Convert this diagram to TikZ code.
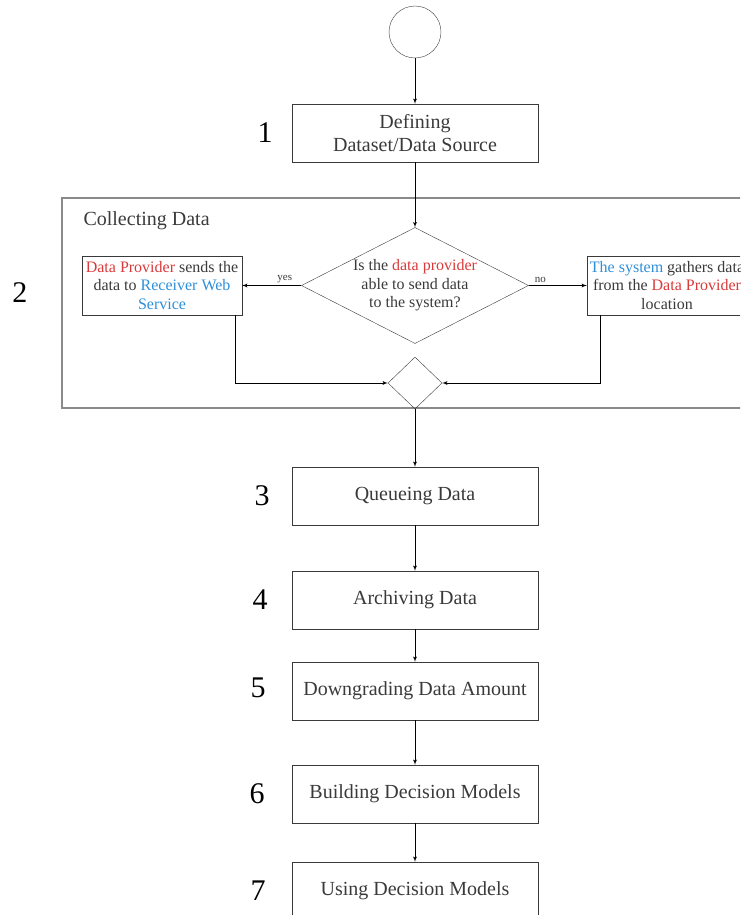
\documentclass[tikz,border=0pt]{standalone}
\usepackage{fontspec}
\setmainfont{Liberation Serif}
\usepackage{xcolor}
\usetikzlibrary{shapes,arrows,positioning}

\definecolor{provred}{HTML}{D93A3A}
\definecolor{sysblue}{HTML}{2E8FD8}
\definecolor{txtgray}{HTML}{3A3A3A}
\definecolor{boxgray}{HTML}{8A8A8A}

\newcommand{\prov}[1]{\textcolor{provred}{#1}}
\newcommand{\sysb}[1]{\textcolor{sysblue}{#1}}

\begin{document}
\begin{tikzpicture}[x=1pt, y=-1pt, auto,
  block/.style={rectangle, draw=txtgray, text=txtgray, minimum width=246pt, minimum height=58pt, inner sep=0pt, align=center, font=\fontsize{20}{23}\selectfont},
  side/.style={rectangle, draw=txtgray, text=txtgray, minimum width=160pt, minimum height=59pt, inner sep=0pt, align=center, font=\fontsize{16}{18.5}\selectfont},
  decision/.style={diamond, draw=txtgray, text=txtgray, aspect=2, minimum width=226pt, minimum height=116pt, inner sep=0pt, align=center, font=\fontsize{16}{18.5}\selectfont},
  merge/.style={diamond, draw=txtgray, minimum width=54pt, minimum height=52pt, inner sep=0pt},
  group/.style={rectangle, draw=boxgray, line width=1.1pt, minimum width=698pt, minimum height=210pt},
  num/.style={font=\fontsize{30}{30}\selectfont},
  tag/.style={text=txtgray, inner sep=2pt, font=\fontsize{11}{11}\selectfont},
  line/.style={draw, -latex', line width=0.8pt}]

  \useasboundingbox (0,0) rectangle (740,915);
  \clip (0,0) rectangle (740,915);

  % data collection frame
  \node [group] (collect) at (411,303) {};
  \node [anchor=west, text=txtgray, font=\fontsize{20}{23}\selectfont] (collecttitle) at (80,221) {Collecting Data};

  \node [circle, draw=txtgray, minimum size=52pt, inner sep=0pt] (start) at (415,32) {};
  \node [block, below of=start, node distance=101pt] (define) {Defining\\Dataset/Data Source};

  \node [decision, below of=define, node distance=152.5pt] (ask) {Is the \prov{data provider}\\able to send data\\to the system?};
  \node [side, left of=ask, node distance=253pt] (push) {\prov{Data Provider} sends the\\data to \sysb{Receiver Web}\\\sysb{Service}};
  \node [side, right of=ask, node distance=252pt] (pull) {\sysb{The system} gathers data\\from the \prov{Data Provider}\\location};
  \node [merge, below of=ask, node distance=97.5pt] (join) {};

  \node [block, below of=join, node distance=113pt] (queue) {Queueing Data};
  \node [block, below of=queue, node distance=104pt] (archive) {Archiving Data};
  \node [block, below of=archive, node distance=91pt] (downgrade) {Downgrading Data Amount};
  \node [block, below of=downgrade, node distance=103pt] (build) {Building Decision Models};
  \node [block, below of=build, node distance=97pt] (use) {Using Decision Models};

  % step numbers
  \node [num, left of=define, node distance=150pt] (n1) {1};
  \node [num] (n2) at (20,293) {2};
  \node [num, left of=queue, node distance=153pt] (n3) {3};
  \node [num, left of=archive, node distance=155pt] (n4) {4};
  \node [num, left of=downgrade, node distance=157pt, yshift=3pt] (n5) {5};
  \node [num, left of=build, node distance=158pt] (n6) {6};
  \node [num, left of=use, node distance=157pt] (n7) {7};

  \draw [line] (start) -- (define);
  \draw [line] (define) -- (ask);
  \draw [line] (ask) -- node [tag, swap, pos=0.28] {yes} (push);
  \draw [line] (ask) -- node [tag, pos=0.2] {no} (pull);
  \draw [line] ([xshift=73pt]push.south) |- (join);
  \draw [line] ([xshift=-67pt]pull.south) |- (join);
  \draw [line] (join) -- (queue);
  \draw [line] (queue) -- (archive);
  \draw [line] (archive) -- (downgrade);
  \draw [line] (downgrade) -- (build);
  \draw [line] (build) -- (use);
\end{tikzpicture}
\end{document}
